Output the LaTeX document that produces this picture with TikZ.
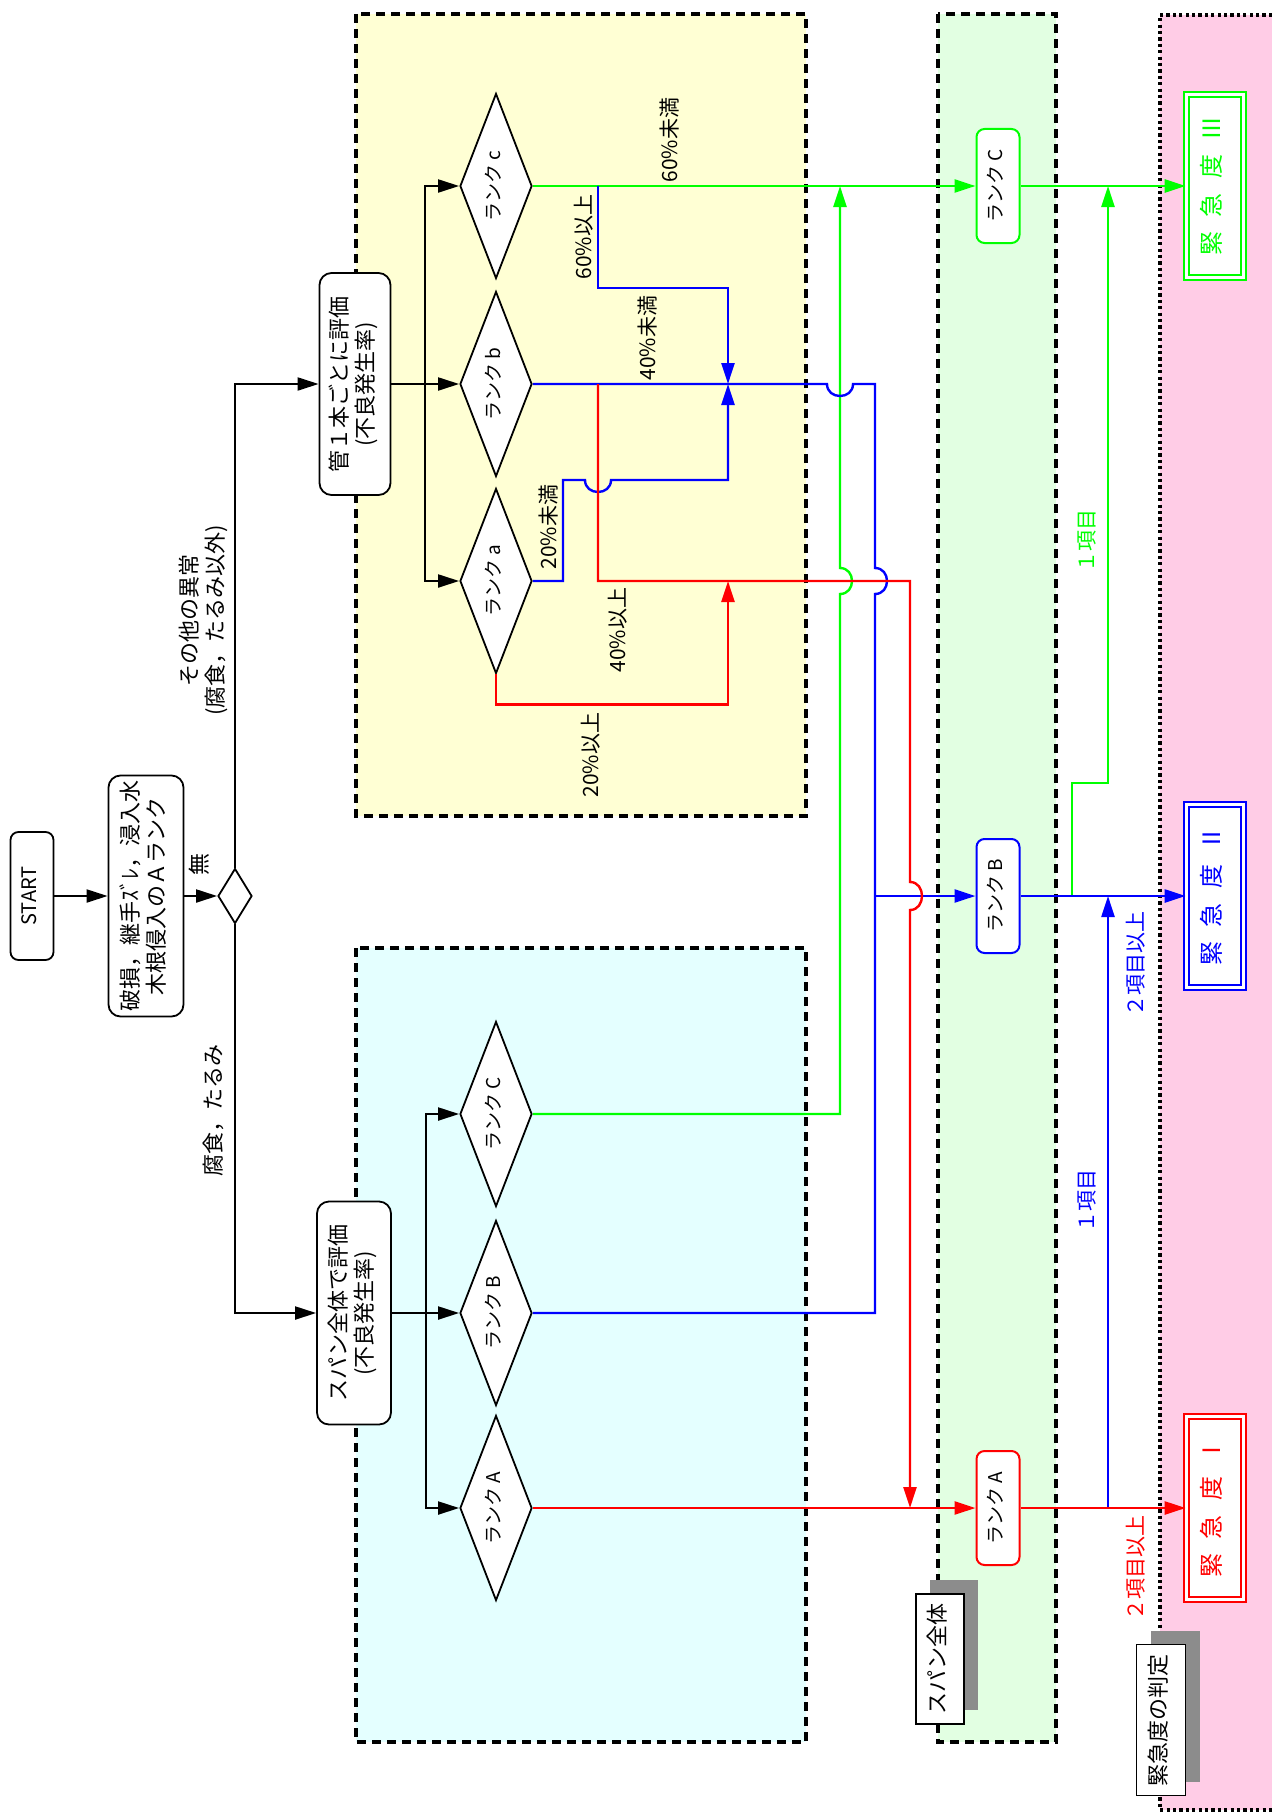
\documentclass[tikz,border=0pt]{standalone}
\usepackage{fontspec}
\usepackage{graphicx}
\setmainfont{Noto Sans CJK JP}
\usetikzlibrary{shapes.geometric,arrows.meta,shadows}

\definecolor{zoneyel}{RGB}{255,255,212}
\definecolor{zonecya}{RGB}{228,255,255}
\definecolor{zonegrn}{RGB}{226,255,226}
\definecolor{zonepnk}{RGB}{255,204,230}
\definecolor{vgreen}{RGB}{0,255,0}

% text turned on the page, read from bottom to top
\newcommand{\vtxt}[1]{\rotatebox{90}{\begin{tabular}{@{}c@{}}#1\end{tabular}}}

\begin{document}
\begin{tikzpicture}[x=0.5pt,y=-0.5pt,
    wire/.style={line width=1pt},
    cwire/.style={line width=1.2pt},
    arr/.style={-{Triangle[length=10.5pt,width=6.5pt]}},
    zone/.style={line width=2pt, dash pattern=on 4.5pt off 3pt},
    proc/.style={draw, line width=0.9pt, fill=white, rounded corners=6pt, inner sep=0pt, font=\fontsize{11}{13}\selectfont},
    rankd/.style={draw, shape=diamond, shape aspect=0.39, line width=0.9pt, fill=white, inner sep=0pt, minimum width=36pt, minimum height=92.5pt, font=\fontsize{9.5}{12}\selectfont},
    rankbox/.style={draw, line width=1pt, fill=white, rounded corners=4pt, inner sep=0pt, minimum width=21.5pt, minimum height=57pt, font=\fontsize{9.5}{12}\selectfont},
    urgbox/.style={draw, double, double distance=1.5pt, line width=0.8pt, fill=white, inner sep=0pt, minimum width=28.5pt, minimum height=91.5pt, font=\fontsize{12}{14}\selectfont},
    tagbox/.style={draw, line width=0.9pt, fill=white, inner sep=0pt, font=\fontsize{11}{13}\selectfont, drop shadow={shadow xshift=7pt, shadow yshift=7pt, fill=black!45, opacity=1}},
    lbl/.style={font=\fontsize{11}{13}\selectfont, inner sep=0pt},
    pct/.style={font=\fontsize{10.5}{12}\selectfont, inner sep=0pt},
]
    \useasboundingbox (0,0) rectangle (1272,1814);

    % Zones
    \draw[zone, fill=zoneyel] (356,14) rectangle (806,816);
    \draw[zone, fill=zonecya] (356,948) rectangle (806,1742);
    \draw[zone, fill=zonegrn] (938,14) rectangle (1056,1742);
    \fill[zonepnk] (1160,15) rectangle (1272,1810);
    \draw[line width=2pt, dash pattern=on 1.6pt off 1.6pt] (1272,15) -- (1160,15) -- (1160,1810) -- (1272,1810);

    % Start and first check
    \node[proc, rounded corners=4pt, minimum width=21.5pt, minimum height=64pt, font=\fontsize{10}{12}\selectfont] (start) at (32,896) {\vtxt{START}};
    \node[proc, minimum width=37.5pt, minimum height=120.5pt] (chk) at (146,896) {\vtxt{破損，継手ｽﾞﾚ，浸入水\\木根侵入のＡランク}};
    \node[draw, shape=diamond, shape aspect=0.6, line width=0.9pt, fill=white, inner sep=0pt, minimum width=17pt, minimum height=27.5pt] (dj) at (235,896) {};
    \node[lbl] (nashi) at (202,864) {\vtxt{無}};
    \node[lbl] (other) at (205,620) {\vtxt{その他の異常\\(腐食，たるみ以外)}};
    \node[lbl] (sag) at (216,1110) {\vtxt{腐食，たるみ}};

    % Evaluation boxes
    \node[proc, minimum width=35.5pt, minimum height=111pt] (pipe) at (355,384) {\vtxt{管１本ごとに評価\\(不良発生率)}};
    \node[proc, minimum width=37pt, minimum height=111.5pt] (span) at (354,1313) {\vtxt{スパン全体で評価\\(不良発生率)}};

    % Rank diamonds
    \node[rankd] (rc) at (496,186) {\vtxt{ランク c}};
    \node[rankd] (rb) at (496,384) {\vtxt{ランク b}};
    \node[rankd] (ra) at (496,581) {\vtxt{ランク a}};
    \node[rankd] (sC) at (496,1114) {\vtxt{ランク C}};
    \node[rankd] (sB) at (496,1313) {\vtxt{ランク B}};
    \node[rankd] (sA) at (496,1508) {\vtxt{ランク A}};

    % Span ranks
    \node[rankbox, draw=vgreen] (kC) at (998,186) {\vtxt{ランク C}};
    \node[rankbox, draw=blue] (kB) at (998,896) {\vtxt{ランク B}};
    \node[rankbox, draw=red] (kA) at (998,1508) {\vtxt{ランク A}};

    % Urgency
    \node[urgbox, draw=vgreen, text=vgreen] (u3) at (1215,186) {\vtxt{緊\hspace{.6em}急\hspace{.6em}度\hspace{.6em}Ⅲ}};
    \node[urgbox, draw=blue, text=blue] (u2) at (1215,896) {\vtxt{緊\hspace{.6em}急\hspace{.6em}度\hspace{.6em}Ⅱ}};
    \node[urgbox, draw=red, text=red] (u1) at (1215,1508) {\vtxt{緊\hspace{.6em}急\hspace{.6em}度\hspace{.6em}Ⅰ}};

    % Tags
    \node[tagbox, minimum width=24pt, minimum height=65pt] (tspan) at (940,1659) {\vtxt{スパン全体}};
    \node[tagbox, minimum width=24.5pt, minimum height=75.5pt] (tjudge) at (1161,1720) {\vtxt{緊急度の判定}};

    % Junctions
    \coordinate (jc) at (598,186);
    \coordinate (jb) at (598,384);
    \coordinate (jbt) at (728,384);
    \coordinate (jat) at (728,581);
    \coordinate (jg) at (840,186);
    \coordinate (jB) at (875,896);
    \coordinate (jA) at (910,1508);
    \coordinate (jg2) at (1072,896);
    \coordinate (jg3) at (1108,186);
    \coordinate (jb2) at (1108,1508);
    \coordinate (jb3) at (1108,896);

    % Main flow
    \draw[wire, arr] (start) -- (chk);
    \draw[wire, arr] (chk) -- (dj);
    \draw[wire, arr] (dj.north) |- (pipe.west);
    \draw[wire, arr] (dj.south) |- (span.west);
    \foreach \d in {rc,rb,ra}
        \draw[wire, arr] (pipe.east) -- ++(34,0) |- (\d.west);
    \foreach \d in {sC,sB,sA}
        \draw[wire, arr] (span.east) -- ++(34,0) |- (\d.west);

    % Green routes
    \draw[cwire, vgreen, arr] (rc.east) -- (kC.west);
    \draw[cwire, vgreen, arr] (sC.east) -| (840,594) .. controls (856,594) and (856,568) .. (840,568) -- (jg);
    \draw[cwire, vgreen, arr] (kC.east) -- (u3.west);
    \draw[cwire, vgreen, arr] (jg2) -- (1072,783) -- (1108,783) -- (jg3);

    % Blue routes
    \draw[cwire, blue] (rb.east) -- (827,384) .. controls (827,400) and (853,400) .. (853,384) -| (875,568) .. controls (891,568) and (891,594) .. (875,594) |- (sB.east);
    \draw[cwire, blue, arr] (jB) -- (kB.west);
    \draw[cwire, blue, arr] (ra.east) -- (563,581) -- (563,480) -- (585,480) .. controls (585,496) and (611,496) .. (611,480) -| (jbt);
    \draw[cwire, blue, arr] (jc) -- (598,288) -| (jbt);
    \draw[cwire, blue, arr] (kB.east) -- (u2.west);
    \draw[cwire, blue, arr] (jb2) -- (jb3);

    % Red routes
    \draw[cwire, red, arr] (jb) -- (598,581) -| (910,882) .. controls (926,882) and (926,910) .. (910,910) -- (jA);
    \draw[cwire, red, arr] (ra.south) -- ++(0,30) -| (jat);
    \draw[cwire, red, arr] (sA.east) -- (kA.west);
    \draw[cwire, red, arr] (kA.east) -- (u1.west);

    % Conditions
    \node[pct] (c60u) at (672,140) {\vtxt{60\%未満}};
    \node[pct] (c60o) at (586,237) {\vtxt{60\%以上}};
    \node[pct] (c40u) at (650,338) {\vtxt{40\%未満}};
    \node[pct] (c20u) at (551,527) {\vtxt{20\%未満}};
    \node[pct] (c40o) at (620,630) {\vtxt{40\%以上}};
    \node[pct] (c20o) at (593,755) {\vtxt{20\%以上}};
    \node[pct, text=vgreen] (g1) at (1090,541) {\vtxt{１項目}};
    \node[pct, text=blue] (b1) at (1090,1201) {\vtxt{１項目}};
    \node[pct, text=blue] (b2) at (1138,964) {\vtxt{２項目以上}};
    \node[pct, text=red] (r2) at (1138,1568) {\vtxt{２項目以上}};

\end{tikzpicture}
\end{document}
